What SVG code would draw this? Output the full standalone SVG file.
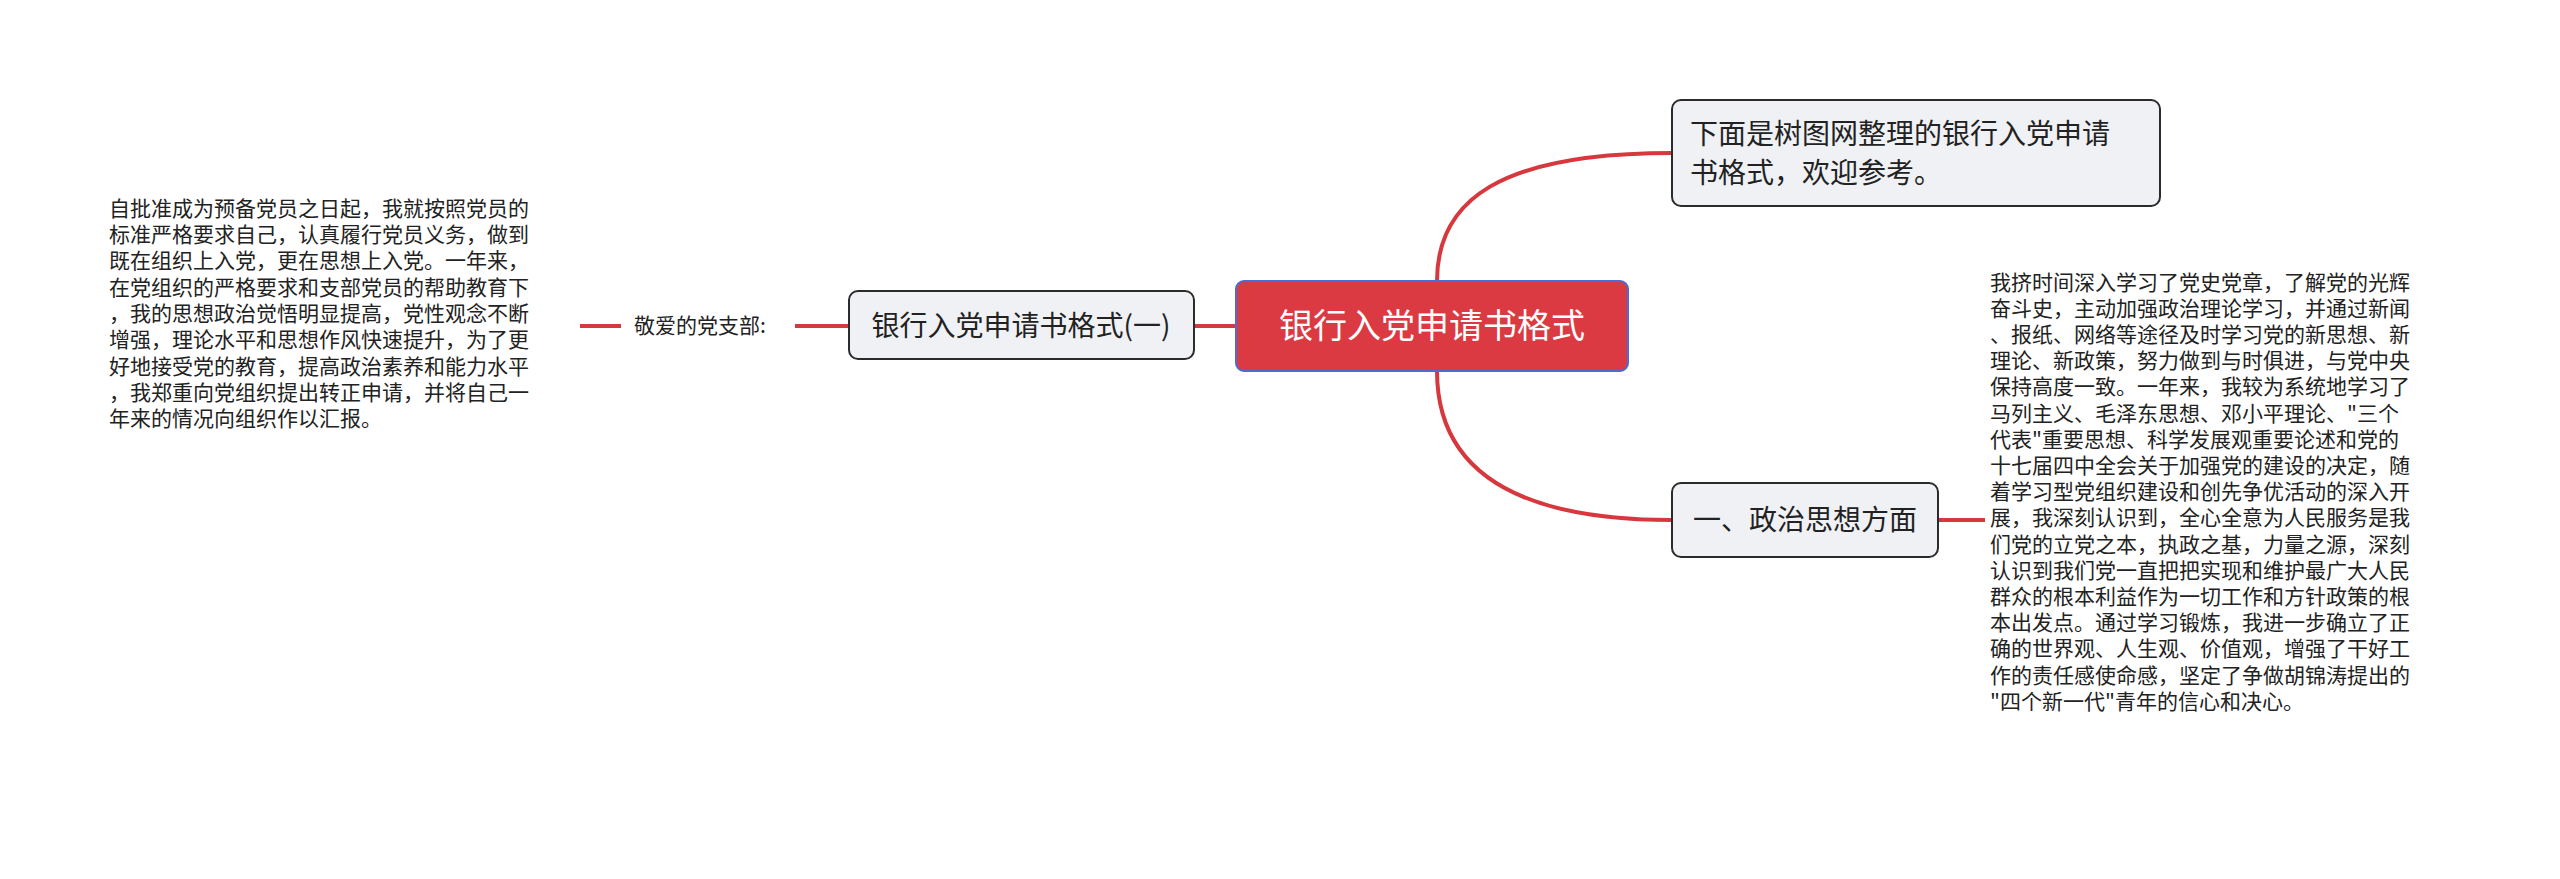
<svg xmlns="http://www.w3.org/2000/svg" width="2560" height="879" viewBox="0 0 2560 879">
<style>
text{font-family:"Noto Sans CJK SC","Noto Sans",sans-serif;fill:#222}
.node{fill:#eff1f4;stroke:#2b2b2b;stroke-width:2}
.ln{fill:none;stroke:#d6383e;stroke-width:4}
.sm{font-size:21px}
</style>
<rect width="2560" height="879" fill="#fff"/>
<g id="connectors">
<path class="ln" d="M1437,281 C1437,200 1500,153 1672,153"/>
<path class="ln" d="M1437,371 C1437,460 1500,520 1672,520"/>
<path class="ln" d="M1236,326 L1194,326"/>
<path class="ln" d="M849,326 L795,326"/>
<path class="ln" d="M621,326 L580,326"/>
<path class="ln" d="M1938,520 L1985,520"/>
</g>
<g id="root">
<rect x="1236" y="281" width="392" height="90" rx="8" fill="#dc3a42" stroke="#4a6cd4" stroke-width="2"/>
<text x="1432" y="338" font-size="34" text-anchor="middle" style="fill:#fff">银行入党申请书格式</text>
</g>
<g id="top">
<rect class="node" x="1672" y="100" width="488" height="106" rx="9"/>
<text x="1690" y="144" font-size="28">下面是树图网整理的银行入党申请</text>
<text x="1690" y="183" font-size="28">书格式，欢迎参考。</text>
</g>
<g id="bottom">
<rect class="node" x="1672" y="483" width="266" height="74" rx="9"/>
<text x="1805" y="530" font-size="28" text-anchor="middle">一、政治思想方面</text>
</g>
<g id="left">
<rect class="node" x="849" y="291" width="345" height="68" rx="9"/>
<text x="1021" y="336" font-size="28" text-anchor="middle">银行入党申请书格式(一)</text>
</g>
<g id="label">
<text class="sm" x="634" y="333">敬爱的党支部:</text>
</g>
<g id="lefttext" class="sm">
<text class="sm" x="109" y="216">自批准成为预备党员之日起，我就按照党员的</text>
<text class="sm" x="109" y="242">标准严格要求自己，认真履行党员义务，做到</text>
<text class="sm" x="109" y="268">既在组织上入党，更在思想上入党。一年来，</text>
<text class="sm" x="109" y="295">在党组织的严格要求和支部党员的帮助教育下</text>
<text class="sm" x="109" y="321">，我的思想政治觉悟明显提高，党性观念不断</text>
<text class="sm" x="109" y="347">增强，理论水平和思想作风快速提升，为了更</text>
<text class="sm" x="109" y="374">好地接受党的教育，提高政治素养和能力水平</text>
<text class="sm" x="109" y="400">，我郑重向党组织提出转正申请，并将自己一</text>
<text class="sm" x="109" y="426">年来的情况向组织作以汇报。</text>
</g>
<g id="righttext">
<text class="sm" x="1990" y="290">我挤时间深入学习了党史党章，了解党的光辉</text>
<text class="sm" x="1990" y="316">奋斗史，主动加强政治理论学习，并通过新闻</text>
<text class="sm" x="1990" y="342">、报纸、网络等途径及时学习党的新思想、新</text>
<text class="sm" x="1990" y="368">理论、新政策，努力做到与时俱进，与党中央</text>
<text class="sm" x="1990" y="394">保持高度一致。一年来，我较为系统地学习了</text>
<text class="sm" x="1990" y="421">马列主义、毛泽东思想、邓小平理论、"三个</text>
<text class="sm" x="1990" y="447">代表"重要思想、科学发展观重要论述和党的</text>
<text class="sm" x="1990" y="473">十七届四中全会关于加强党的建设的决定，随</text>
<text class="sm" x="1990" y="499">着学习型党组织建设和创先争优活动的深入开</text>
<text class="sm" x="1990" y="525">展，我深刻认识到，全心全意为人民服务是我</text>
<text class="sm" x="1990" y="552">们党的立党之本，执政之基，力量之源，深刻</text>
<text class="sm" x="1990" y="578">认识到我们党一直把把实现和维护最广大人民</text>
<text class="sm" x="1990" y="604">群众的根本利益作为一切工作和方针政策的根</text>
<text class="sm" x="1990" y="630">本出发点。通过学习锻炼，我进一步确立了正</text>
<text class="sm" x="1990" y="656">确的世界观、人生观、价值观，增强了干好工</text>
<text class="sm" x="1990" y="683">作的责任感使命感，坚定了争做胡锦涛提出的</text>
<text class="sm" x="1990" y="709">"四个新一代"青年的信心和决心。</text>
</g>
</svg>
